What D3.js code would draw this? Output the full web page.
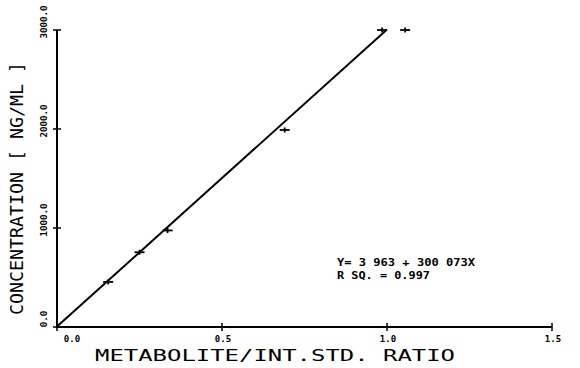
<!DOCTYPE html>
<html><head><meta charset="utf-8">
<script src="https://cdn.jsdelivr.net/npm/d3@7"></script>
<style>body{margin:0;background:#fff}svg{display:block}</style>
</head><body>
<script>
const ratios = [0.155, 0.25, 0.335, 0.69, 0.985, 1.055];
const concentrations = [455, 755, 975, 1990, 3000, 3000];
const intercept = 3.963, slope = 3000.73;
const lineRange = [0, 1.0];
const xTicks = [0, 0.5, 1.0, 1.5];
const xTickLabels = ["0.0", "0.5", "1.0", "1.5"];
const yTicks = [0, 1000, 2000, 3000];
const yTickLabels = ["0.0", "1000.0", "2000.0", "3000.0"];
const xTitle = "METABOLITE/INT.STD. RATIO";
const yTitle = "CONCENTRATION [ NG/ML ]";
const eqLines = ["Y= 3 963 + 300 073X", "R SQ. = 0.997"];

const W = 580, H = 368;
const svg = d3.select("body").append("svg").attr("width", W).attr("height", H);
const x = d3.scaleLinear().domain([0, 1.5]).range([57, 552]);
const y = d3.scaleLinear().domain([0, 3000]).range([327, 30]);
const font = "'DejaVu Sans Mono', monospace";

// axes
svg.append("line").attr("x1", x(0)).attr("x2", x(1.5)).attr("y1", y(0)).attr("y2", y(0))
  .attr("stroke", "#000").attr("stroke-width", 2);
svg.append("line").attr("x1", x(0)).attr("x2", x(0)).attr("y1", y(0)).attr("y2", y(3000))
  .attr("stroke", "#000").attr("stroke-width", 2);
// x ticks
svg.selectAll(".xt").data(xTicks).join("line")
  .attr("x1", d => x(d)).attr("x2", d => x(d)).attr("y1", y(0) - 4).attr("y2", y(0) + 4)
  .attr("stroke", "#000").attr("stroke-width", 1.5);
svg.selectAll(".xl").data(xTicks).join("text")
  .attr("x", (d, i) => x(d) + (i === 0 ? 15 : 1)).attr("y", y(0) + 15)
  .attr("text-anchor", "middle").attr("font-family", font).attr("font-weight", "bold")
  .attr("font-size", 9).text((d, i) => xTickLabels[i]);
// y ticks
svg.selectAll(".yt").data(yTicks).join("line")
  .attr("x1", x(0) - 4).attr("x2", x(0) + 4).attr("y1", d => y(d)).attr("y2", d => y(d))
  .attr("stroke", "#000").attr("stroke-width", 1.5);
svg.selectAll(".yl").data(yTicks).join("text")
  .attr("transform", d => `translate(47,${Math.max(y(d) - 8, 20)}) rotate(-90)`)
  .attr("text-anchor", "middle").attr("font-family", font).attr("font-weight", "bold")
  .attr("font-size", 9).attr("textLength", (d, i) => yTickLabels[i].length * 5.5)
  .attr("lengthAdjust", "spacingAndGlyphs")
  .text((d, i) => yTickLabels[i]);

// regression line
const lg = d3.line().x(d => x(d)).y(d => y(intercept + slope * d));
svg.append("path").attr("d", lg(lineRange)).attr("fill", "none")
  .attr("stroke", "#000").attr("stroke-width", 2);

// points (+ markers)
const pts = ratios.map((r, i) => [r, concentrations[i]]);
const g = svg.append("g");
pts.forEach(p => {
  g.append("line").attr("x1", x(p[0]) - 5).attr("x2", x(p[0]) + 5)
    .attr("y1", y(p[1])).attr("y2", y(p[1])).attr("stroke", "#000").attr("stroke-width", 1.8);
  g.append("line").attr("x1", x(p[0])).attr("x2", x(p[0]))
    .attr("y1", y(p[1]) - 2.5).attr("y2", y(p[1]) + 2.5).attr("stroke", "#000").attr("stroke-width", 1.8);
});

// titles
svg.append("text").attr("x", 95).attr("y", 361).attr("font-family", font)
  .attr("font-size", 16).attr("textLength", 360).attr("lengthAdjust", "spacingAndGlyphs")
  .text(xTitle);
svg.append("text").attr("transform", "translate(23,315) rotate(-90)").attr("font-family", font)
  .attr("font-size", 17).attr("textLength", 253).attr("lengthAdjust", "spacingAndGlyphs")
  .text(yTitle);

// equation
svg.selectAll(".eq").data(eqLines).join("text")
  .attr("x", 337).attr("y", (d, i) => 266 + i * 13)
  .attr("font-family", font).attr("font-weight", "bold").attr("font-size", 10)
  .attr("textLength", (d, i) => i === 0 ? 138 : 93).attr("lengthAdjust", "spacingAndGlyphs")
  .text(d => d);
</script>
</body></html>
